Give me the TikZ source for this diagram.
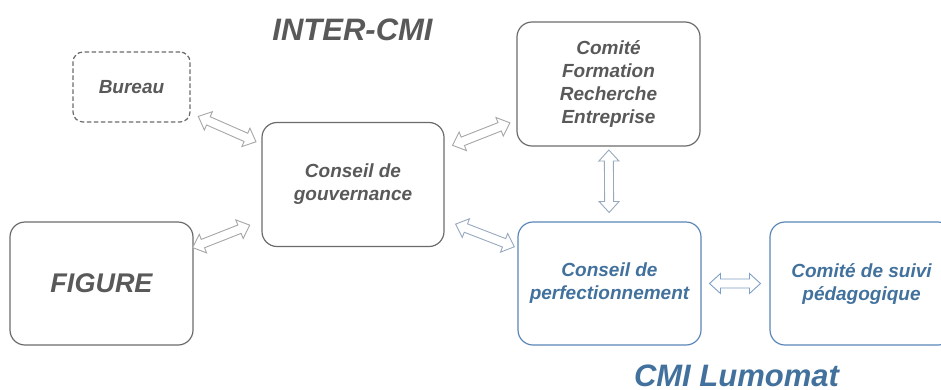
\documentclass[tikz,border=0pt]{standalone}
\usepackage{fontspec}
\setmainfont{Liberation Sans}
\usetikzlibrary{calc}
\definecolor{txtgray}{HTML}{595959}
\definecolor{linegray}{HTML}{6B6B6B}
\definecolor{txtblue}{HTML}{41719C}
\definecolor{lineblue}{HTML}{5A86B8}
\definecolor{arrgray}{HTML}{A6A6A6}
\definecolor{arrblue}{HTML}{7F9FC8}
\definecolor{arrmix}{HTML}{98A8BE}

\begin{document}
\begin{tikzpicture}[x=1pt,y=-1pt,
  box/.style={draw=linegray,line width=1.2pt,rounded corners=15pt,minimum width=183pt,minimum height=123pt,
    align=center,inner sep=0pt,text=txtgray,font=\fontsize{19}{23}\selectfont\bfseries\itshape},
  bluebox/.style={box,draw=lineblue,text=txtblue},
  title/.style={anchor=base,inner sep=0pt,font=\fontsize{31}{36}\selectfont\bfseries\itshape},
  dblarrow/.style 2 args={draw=arrgray,fill=white,line width=0.9pt,
    to path={let \p1=($(\tikztostart)!#1!(\tikztotarget)$), \p2=($(\tikztotarget)!#2!(\tikztostart)$) in
      (\p1) -- ($(\p1)!11pt!(\p2)!10pt!90:(\p2)$) -- ($(\p1)!11pt!(\p2)!4.5pt!90:(\p2)$)
      -- ($(\p2)!11pt!(\p1)!4.5pt!-90:(\p1)$) -- ($(\p2)!11pt!(\p1)!10pt!-90:(\p1)$)
      -- (\p2) -- ($(\p2)!11pt!(\p1)!10pt!90:(\p1)$) -- ($(\p2)!11pt!(\p1)!4.5pt!90:(\p1)$)
      -- ($(\p1)!11pt!(\p2)!4.5pt!-90:(\p2)$) -- ($(\p1)!11pt!(\p2)!10pt!-90:(\p2)$) -- cycle}}]
  \useasboundingbox (0,0) rectangle (941,389);

  \node[title,text=txtgray] (inter) at (352.5,40) {INTER-CMI};
  \node[title,text=txtblue] (lumomat) at (736.5,386) {CMI Lumomat};

  \node[box,dash pattern=on 4.5pt off 2.5pt,rounded corners=10pt,minimum width=117pt,minimum height=70pt] (bureau) at (131.5,87) {Bureau};
  \node[box,minimum width=182pt,minimum height=124pt] (gouv) at (353,184.5) {Conseil de\\gouvernance};
  \node[box,minimum height=124pt] (cfre) at (608.5,84) {Comité\\Formation\\Recherche\\Entreprise};
  \node[box,font=\fontsize{27}{32}\selectfont\bfseries\itshape] (figure) at (101.5,283.5) {FIGURE};
  \node[bluebox] (perf) at (609.5,283.5) {Conseil de\\perfectionnement};
  \node[bluebox] (suivi) at (861.5,283.5) {Comité de suivi\\pédagogique};

  \draw[dblarrow={73pt}{106pt}] (bureau) to (gouv);
  \draw[dblarrow={107pt}{106pt}] (gouv) to (cfre);
  \draw[dblarrow={98pt}{111pt}] (figure) to (gouv);
  \draw[dblarrow={110pt}{102pt},draw=arrmix] (gouv) to (perf);
  \draw[dblarrow={66pt}{71pt},draw=arrmix] (cfre) to (perf);
  \draw[dblarrow={100pt}{101pt},draw=arrblue] (perf) to (suivi);
\end{tikzpicture}
\end{document}
